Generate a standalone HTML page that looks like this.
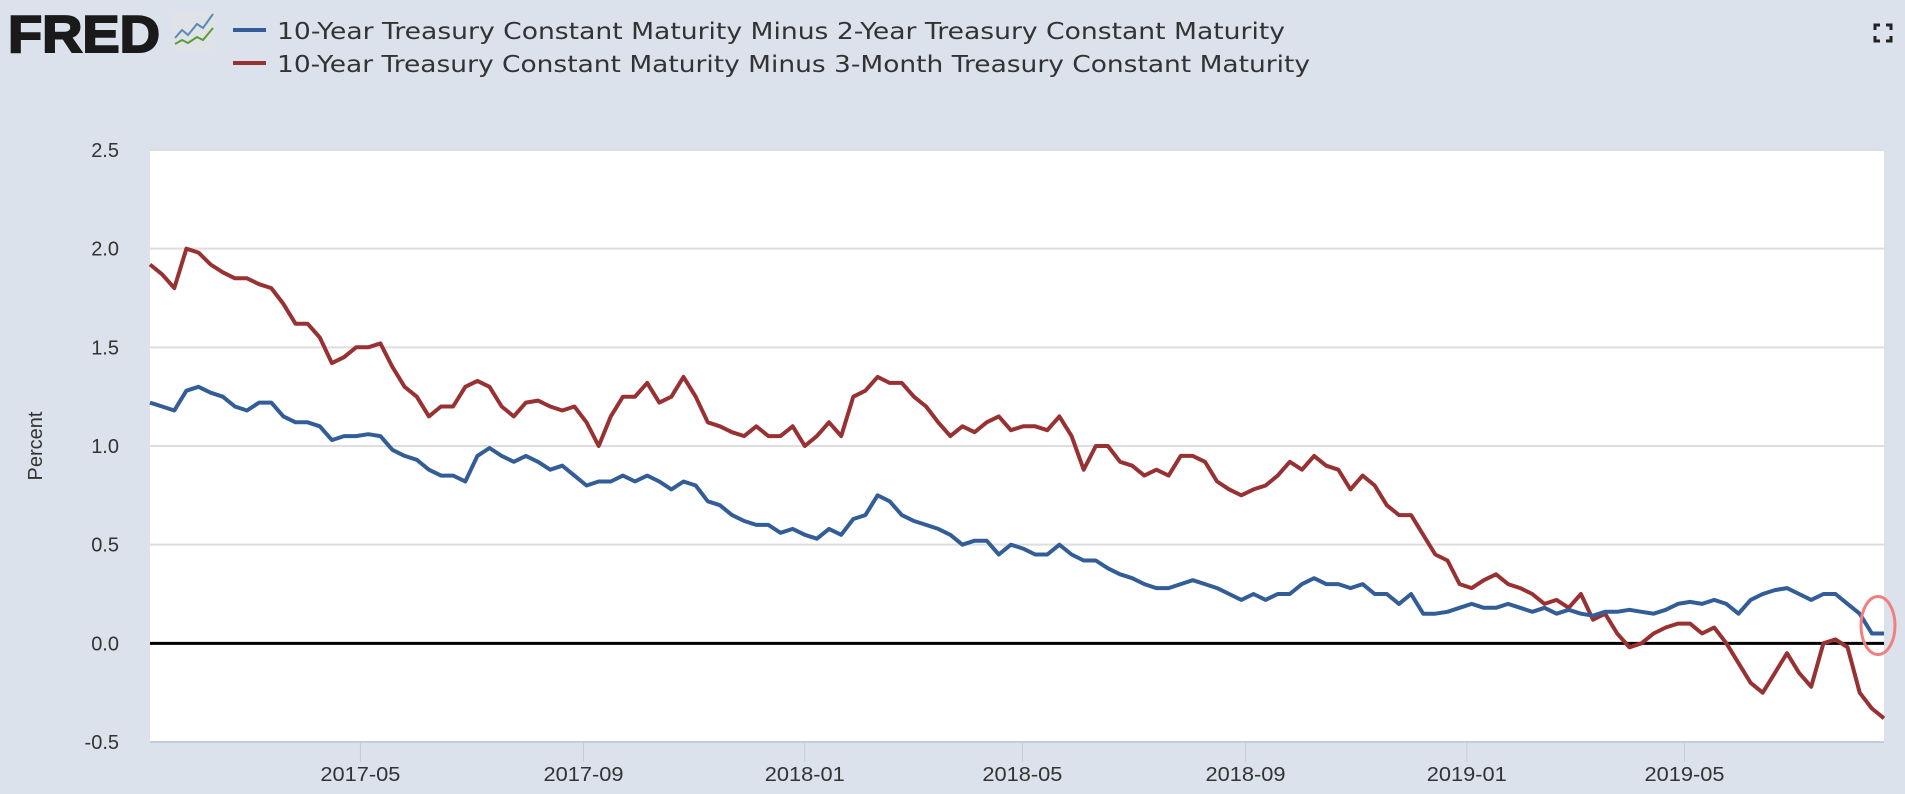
<!DOCTYPE html>
<html><head><meta charset="utf-8"><style>
html,body{margin:0;padding:0;background:#dbe2ec;}
svg{display:block;font-family:"Liberation Sans",sans-serif;}
</style></head><body>
<svg id="chart" width="1905" height="794" viewBox="0 0 1905 794">
<rect x="0" y="0" width="1905" height="794" fill="#dbe2ec"/>
<g>
<text x="8" y="52" font-size="52" font-weight="bold" fill="#1a1a1a" stroke="#1a1a1a" stroke-width="2" textLength="152" lengthAdjust="spacingAndGlyphs">FRED</text>
<rect x="173" y="12" width="42" height="39" rx="4" fill="#dfe3e6"/>
<polyline points="175,38 182,30 188,35 197,24 203,28 213,14" fill="none" stroke="#5a8ab8" stroke-width="2"/>
<polyline points="175,44 182,40 188,43 197,37 203,40 213,28" fill="none" stroke="#5a9a3a" stroke-width="2"/>
</g>
<g font-family="DejaVu Sans, sans-serif">
<line x1="233" y1="30" x2="266" y2="30" stroke="#335d96" stroke-width="4"/>
<text x="277" y="39" font-size="23" fill="#333" textLength="1008" lengthAdjust="spacingAndGlyphs">10-Year Treasury Constant Maturity Minus 2-Year Treasury Constant Maturity</text>
<line x1="233" y1="63" x2="266" y2="63" stroke="#983232" stroke-width="4"/>
<text x="277" y="72" font-size="23" fill="#333" textLength="1033" lengthAdjust="spacingAndGlyphs">10-Year Treasury Constant Maturity Minus 3-Month Treasury Constant Maturity</text>
</g>
<g stroke="#222" stroke-width="3" fill="none">
<polyline points="1875,30 1875,25 1880,25"/><polyline points="1886,25 1891,25 1891,30"/>
<polyline points="1875,36 1875,41 1880,41"/><polyline points="1886,41 1891,41 1891,36"/>
</g>
<rect x="150" y="150" width="1734" height="592" fill="#ffffff"/>
<g id="grid"></g>
<g id="yticks"></g>
<g id="xticks"></g>
<text x="0" y="0" transform="translate(42,446) rotate(-90)" text-anchor="middle" font-size="20" fill="#333">Percent</text>
<g id="series"></g>
<line x1="150" y1="742" x2="1884" y2="742" stroke="#c0cce0" stroke-width="2"/>
</svg>
<script>
const yTickValues = [2.5, 2.0, 1.5, 1.0, 0.5, 0.0, -0.5];
const yTickLabels = ["2.5", "2.0", "1.5", "1.0", "0.5", "0.0", "-0.5"];
const xTickDates = ["2017-05-01","2017-09-01","2018-01-01","2018-05-01","2018-09-01","2019-01-01","2019-05-01"];
const xTickLabels = ["2017-05","2017-09","2018-01","2018-05","2018-09","2019-01","2019-05"];
const startDate = "2017-01-05";
const endDate = "2019-08-19";
const spread10y3m = [1.92,1.87,1.80,2.00,1.98,1.92,1.88,1.85,1.85,1.82,1.80,1.72,1.62,1.62,1.55,1.42,1.45,1.50,1.50,1.52,1.40,1.30,1.25,1.15,1.20,1.20,1.30,1.33,1.30,1.20,1.15,1.22,1.23,1.20,1.18,1.20,1.12,1.00,1.15,1.25,1.25,1.32,1.22,1.25,1.35,1.25,1.12,1.10,1.07,1.05,1.10,1.05,1.05,1.10,1.00,1.05,1.12,1.05,1.25,1.28,1.35,1.32,1.32,1.25,1.20,1.12,1.05,1.10,1.07,1.12,1.15,1.08,1.10,1.10,1.08,1.15,1.05,0.88,1.00,1.00,0.92,0.90,0.85,0.88,0.85,0.95,0.95,0.92,0.82,0.78,0.75,0.78,0.80,0.85,0.92,0.88,0.95,0.90,0.88,0.78,0.85,0.80,0.70,0.65,0.65,0.55,0.45,0.42,0.30,0.28,0.32,0.35,0.30,0.28,0.25,0.20,0.22,0.18,0.25,0.12,0.15,0.05,-0.02,0.00,0.05,0.08,0.10,0.10,0.05,0.08,0.00,-0.10,-0.20,-0.25,-0.15,-0.05,-0.15,-0.22,0.00,0.02,-0.02,-0.25,-0.33,-0.38];
const spread10y2y = [1.22,1.20,1.18,1.28,1.30,1.27,1.25,1.20,1.18,1.22,1.22,1.15,1.12,1.12,1.10,1.03,1.05,1.05,1.06,1.05,0.98,0.95,0.93,0.88,0.85,0.85,0.82,0.95,0.99,0.95,0.92,0.95,0.92,0.88,0.90,0.85,0.80,0.82,0.82,0.85,0.82,0.85,0.82,0.78,0.82,0.80,0.72,0.70,0.65,0.62,0.60,0.60,0.56,0.58,0.55,0.53,0.58,0.55,0.63,0.65,0.75,0.72,0.65,0.62,0.60,0.58,0.55,0.50,0.52,0.52,0.45,0.50,0.48,0.45,0.45,0.50,0.45,0.42,0.42,0.38,0.35,0.33,0.30,0.28,0.28,0.30,0.32,0.30,0.28,0.25,0.22,0.25,0.22,0.25,0.25,0.30,0.33,0.30,0.30,0.28,0.30,0.25,0.25,0.20,0.25,0.15,0.15,0.16,0.18,0.20,0.18,0.18,0.20,0.18,0.16,0.18,0.15,0.17,0.15,0.14,0.16,0.16,0.17,0.16,0.15,0.17,0.20,0.21,0.20,0.22,0.20,0.15,0.22,0.25,0.27,0.28,0.25,0.22,0.25,0.25,0.20,0.15,0.05,0.05];

const NS = "http://www.w3.org/2000/svg";
const X0 = 150, X1 = 1884, Y0 = 150, Y1 = 742, VMAX = 2.5, VMIN = -0.5;
const t0 = Date.parse(startDate), t1 = Date.parse(endDate);
function xDate(d){ return X0 + (Date.parse(d) - t0) / (t1 - t0) * (X1 - X0); }
function xIdx(i, n){ return X0 + i / (n - 1) * (X1 - X0); }
function yVal(v){ return Y0 + (VMAX - v) / (VMAX - VMIN) * (Y1 - Y0); }
function mk(tag, attrs){ const e = document.createElementNS(NS, tag); for (const k in attrs) e.setAttribute(k, attrs[k]); return e; }

const grid = document.getElementById('grid');
const yt = document.getElementById('yticks');
yTickValues.forEach((v, i) => {
  const y = yVal(v);
  if (v !== 0) {
    const g = mk('line', {x1: X0, x2: X1, y1: y, y2: y, stroke: '#dedede', 'stroke-width': 2});
    
    
    grid.appendChild(g);
  }
  const t = mk('text', {x: 119, y: y + 7, 'text-anchor': 'end', 'font-size': 20, fill: '#333'});
  t.textContent = yTickLabels[i];
  
  
  yt.appendChild(t);
});
const xt = document.getElementById('xticks');
xTickDates.forEach((d, i) => {
  const x = xDate(d);
  const l = mk('line', {x1: x, x2: x, y1: 742, y2: 762, stroke: '#c0cce0', 'stroke-width': 1});
  
  
  xt.appendChild(l);
  const t = mk('text', {x: x, y: 781, 'text-anchor': 'middle', 'font-size': 20, fill: '#333', textLength: 80, lengthAdjust: 'spacingAndGlyphs'});
  t.textContent = xTickLabels[i];
  
  
  xt.appendChild(t);
});

const ser = document.getElementById('series');
const zl = mk('line', {x1: X0, x2: X1, y1: yVal(0), y2: yVal(0), stroke: '#000', 'stroke-width': 3});


ser.appendChild(zl);
function drawLine(vals, color, name){
  const pts = vals.map((v, i) => xIdx(i, vals.length).toFixed(1) + ',' + yVal(v).toFixed(1)).join(' ');
  const p = mk('polyline', {points: pts, fill: 'none', stroke: color, 'stroke-width': 4, 'stroke-linejoin': 'round'});
  
  
  ser.appendChild(p);
}
drawLine(spread10y3m, '#983232', 'series-10y3m-line');
drawLine(spread10y2y, '#335d96', 'series-10y2y-line');
const last = spread10y2y[spread10y2y.length - 1];
const c = mk('ellipse', {cx: X1 - 6, cy: yVal(last) - 8, rx: 17, ry: 29, fill: 'none', stroke: '#f08080', 'stroke-width': 3});


ser.appendChild(c);
</script>
</body></html>
